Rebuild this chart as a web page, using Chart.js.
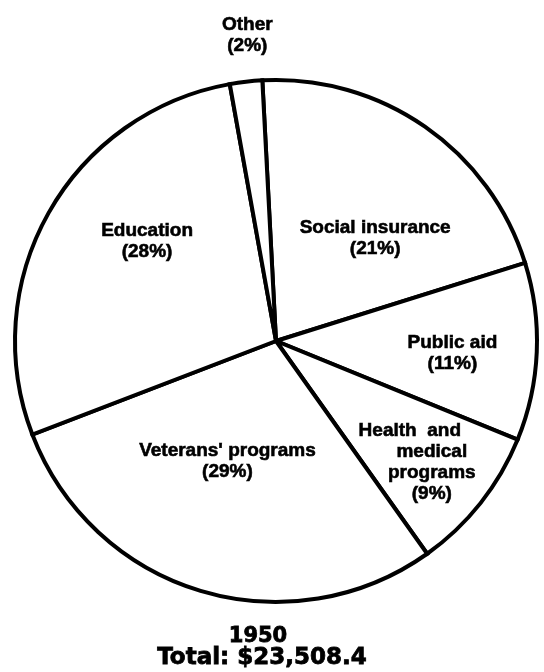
<!DOCTYPE html>
<html>
<head>
<meta charset="utf-8">
<title>1950</title>
<script src="https://cdn.jsdelivr.net/npm/chart.js@4.4.1/dist/chart.umd.min.js"></script>
<style>
	html, body { margin: 0; padding: 0; background: #fff; }
	#wrap { width: 544px; height: 672px; }
</style>
</head>
<body>
<div id="wrap"><canvas id="mycanvas" width="544" height="672"></canvas></div>
<script>
// categories, clockwise from the top
var categorias = ['Social insurance', 'Public aid', 'Health and medical programs', "Veterans' programs", 'Education', 'Other'];
var porcentajes = [21, 11, 9, 29, 28, 2];
var lineasEtiqueta = [
	['Social insurance'],
	['Public aid'],
	['Health  and', 'medical', 'programs'],
	["Veterans' programs"],
	['Education'],
	['Other']
];
var anio = '1950';
var total = 'Total: $23,508.4';

// where each label sits, as a fraction of the radius from the centre (x = centre of text, y = first baseline)
var posEtiqueta = [
	{ x: 0.380, y: -0.414 },
	{ x: 0.676, y: 0.027 },
	{ x: 0.597, y: 0.364, dx: [-22, 0, 0, 0] },
	{ x: -0.186, y: 0.441 },
	{ x: -0.494, y: -0.403 },
	{ x: -0.110, y: -1.193 }
];

var etiquetas = {
	id: 'etiquetas',
	afterDraw: function(chart) {
		var ctx = chart.ctx;
		var arcs = chart.getDatasetMeta(0).data;
		ctx.save();
		ctx.fillStyle = '#000';
		ctx.strokeStyle = '#000';
		ctx.lineWidth = 0.6;
		ctx.textAlign = 'center';
		ctx.textBaseline = 'alphabetic';
		ctx.font = 'bold 19px "Liberation Sans", Arial, sans-serif';
		for (var i = 0; i < arcs.length; i++) {
			var a = arcs[i];
			var r = a.outerRadius;
			var p = posEtiqueta[i];
			var lineas = lineasEtiqueta[i].concat(['(' + porcentajes[i] + '%)']);
			for (var j = 0; j < lineas.length; j++) {
				var dx = (p.dx && p.dx[j]) || 0;
				var x = a.x + p.x * r + dx;
				var y = a.y + p.y * r + j * 21;
				ctx.fillText(lineas[j], x, y);
				ctx.strokeText(lineas[j], x, y);
			}
		}
		// title under the pie
		var base = arcs[0].y + arcs[0].outerRadius;
		ctx.lineWidth = 0.8;
		ctx.font = 'bold 21px "DejaVu Sans", sans-serif';
		ctx.fillText(anio, 258, base + 40);
		ctx.strokeText(anio, 258, base + 40);
		ctx.font = 'bold 23px "DejaVu Sans", sans-serif';
		ctx.fillText(total, 262, base + 62);
		ctx.strokeText(total, 262, base + 62);
		ctx.restore();
	}
};

var ctx = document.getElementById('mycanvas');

var pieGraph = new Chart(ctx, {
	type: 'pie',
	data: {
		labels: categorias,
		datasets: [{
			data: porcentajes,
			backgroundColor: '#fff',
			borderColor: '#000',
			borderWidth: 4,
			borderJoinStyle: 'miter'
		}]
	},
	options: {
		responsive: false,
		animation: false,
		rotation: -3,
		layout: { padding: { left: 13, right: 5, top: 78, bottom: 68 } },
		plugins: {
			legend: { display: false },
			tooltip: { enabled: false }
		}
	},
	plugins: [etiquetas]
});
</script>
</body>
</html>
